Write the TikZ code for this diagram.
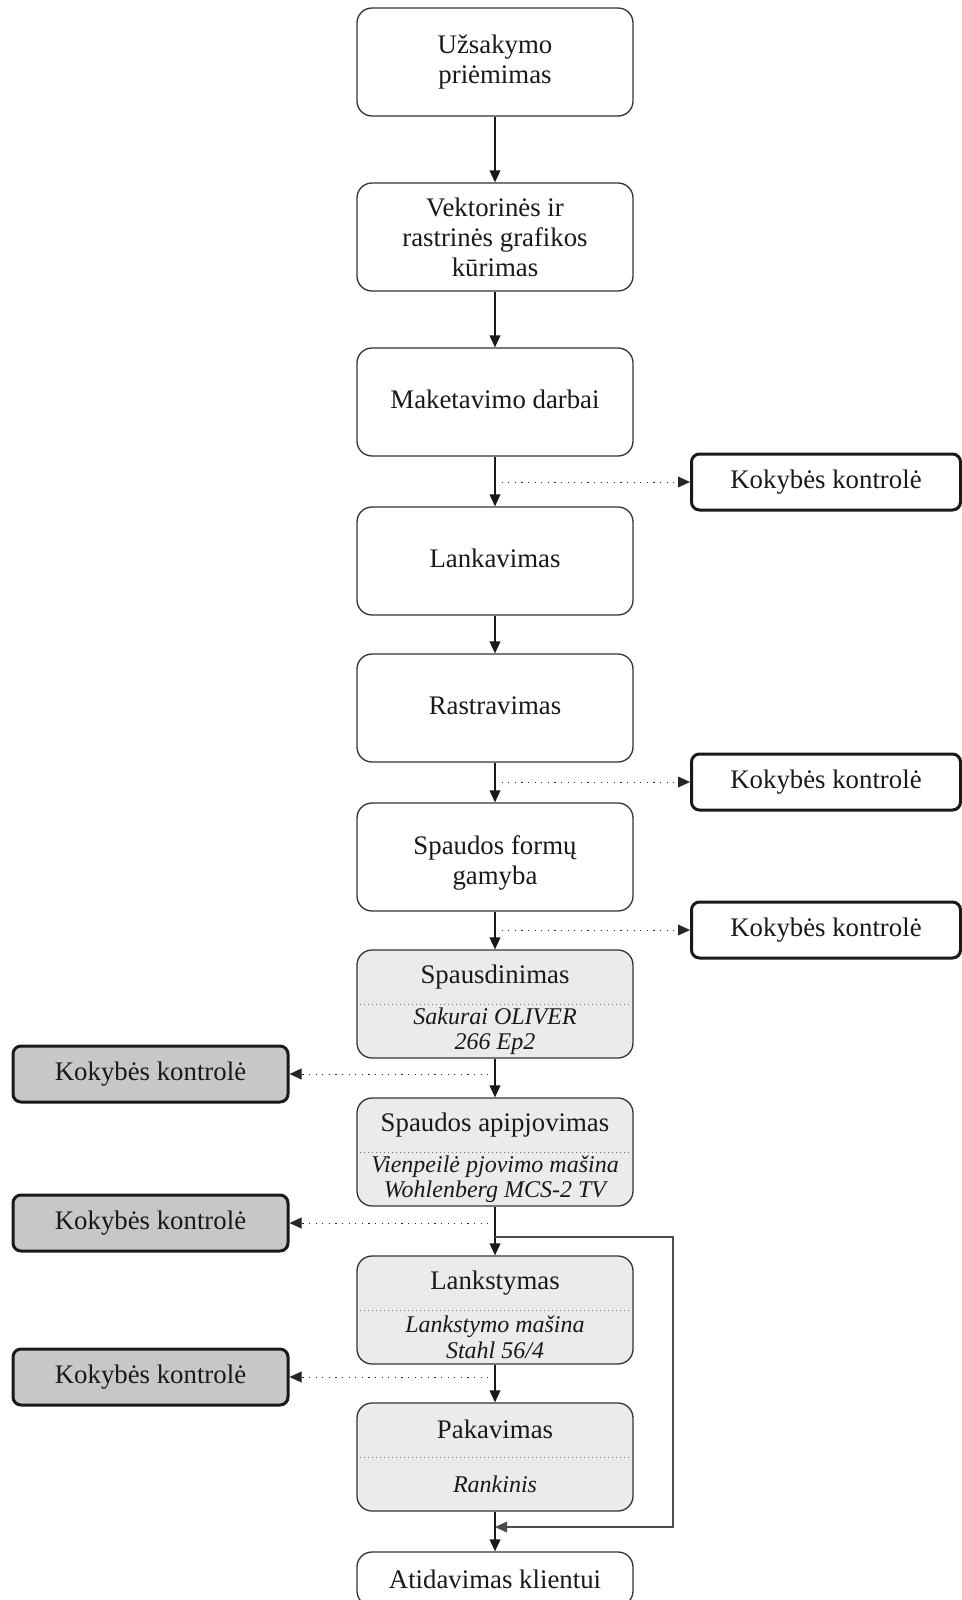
\documentclass[tikz,border=0pt]{standalone}
\usepackage{fontspec}
\setmainfont{Liberation Serif}
\usetikzlibrary{arrows.meta,calc}
\begin{document}
\begin{tikzpicture}[x=0.5pt,y=-0.5pt,
 every node/.style={text=black!90, font=\fontsize{13.4}{15}\selectfont, align=center},
 mbox/.style={draw=black!80, line width=0.65pt, rounded corners=7.5pt, minimum width=138pt, minimum height=54pt, inner sep=0pt, fill=white},
 gbox/.style={mbox, fill=black!8},
 kbox/.style={draw=black!90, line width=1.5pt, rounded corners=4pt, minimum height=28pt, inner sep=0pt},
 kright/.style={kbox, minimum width=134.5pt, fill=white},
 kleft/.style={kbox, minimum width=137.5pt, fill=black!22},
 txt/.style={inner sep=0pt},
 sub/.style={inner sep=0pt, font=\fontsize{12}{12.6}\selectfont\itshape},
 sep/.style={draw=black!55, line width=0.4pt, dash pattern=on 0.5pt off 1.5pt},
 arr/.style={draw=black!90, line width=0.65pt, -{Triangle[length=6pt,width=5.4pt]}},
 darr/.style={arr, draw=black!85, line width=0.5pt, dash pattern=on 0.6pt off 2.7pt},
 fbarr/.style={arr, draw=black!70, line width=0.55pt},
]
\useasboundingbox (0,0) rectangle (962,1600);

% main column
\node[mbox] (m1) at (495,62) {Užsakymo\\priėmimas};
\node[mbox] (m2) at (495,237) {Vektorinės ir\\rastrinės grafikos\\kūrimas};
\node[mbox] (m3) at (495,402) {\raisebox{3pt}{Maketavimo darbai}};
\node[mbox] (m4) at (495,561) {\raisebox{3pt}{Lankavimas}};
\node[mbox] (m5) at (495,708) {\raisebox{2.5pt}{Rastravimas}};
\node[mbox] (m6) at (495,857) {};
\node[txt] (m6t) at ([yshift=-3pt]m6.center) {Spaudos formų\\gamyba};

\node[gbox] (m7) at (495,1004) {};
\draw[sep] (m7.west) -- (m7.east);
\node[txt] (m7t) at ($(m7.north)!0.5!(m7.center)$) {Spausdinimas};
\node[sub] (m7s) at ($(m7.center)!0.5!(m7.south)$) {Sakurai OLIVER\\266 Ep2};

\node[gbox] (m8) at (495,1152) {};
\draw[sep] (m8.west) -- (m8.east);
\node[txt] (m8t) at ($(m8.north)!0.5!(m8.center)$) {Spaudos apipjovimas};
\node[sub] (m8s) at ($(m8.center)!0.5!(m8.south)$) {Vienpeilė pjovimo mašina\\Wohlenberg MCS-2 TV};

\node[gbox] (m9) at (495,1310) {};
\draw[sep] (m9.west) -- (m9.east);
\node[txt] (m9t) at ($(m9.north)!0.5!(m9.center)$) {Lankstymas};
\node[sub] (m9s) at ($(m9.center)!0.5!(m9.south)$) {Lankstymo mašina\\Stahl 56/4};

\node[gbox] (m10) at (495,1457) {};
\draw[sep] (m10.west) -- (m10.east);
\node[txt] (m10t) at ($(m10.north)!0.5!(m10.center)$) {Pakavimas};
\node[sub] (m10s) at ($(m10.center)!0.5!(m10.south)$) {Rankinis};

\node[mbox, minimum height=27pt] (m11) at (495,1579) {Atidavimas klientui};

% quality boxes
\node[kright] (k1) at (826,482) {Kokybės kontrolė};
\node[kright] (k2) at (826,782) {Kokybės kontrolė};
\node[kright] (k3) at (826,930) {Kokybės kontrolė};
\node[kleft] (l1) at (150.5,1074) {Kokybės kontrolė};
\node[kleft] (l2) at (150.5,1223) {Kokybės kontrolė};
\node[kleft] (l3) at (150.5,1377) {Kokybės kontrolė};

% main arrows
\draw[arr] (m1) -- (m2);
\draw[arr] (m2) -- (m3);
\draw[arr] (m3) -- (m4);
\draw[arr] (m4) -- (m5);
\draw[arr] (m5) -- (m6);
\draw[arr] (m6) -- (m7);
\draw[arr] (m7) -- (m8);
\draw[arr] (m8) -- (m9);
\draw[arr] (m9) -- (m10);
\draw[arr] (m10) -- (m11);

% dotted arrows to quality control
\draw[darr] (m3.south |- k1.west) -- (k1.west);
\draw[darr] (m5.south |- k2.west) -- (k2.west);
\draw[darr] (m6.south |- k3.west) -- (k3.west);
\draw[darr] (m7.south |- l1.east) -- (l1.east);
\draw[darr] (m8.south |- l2.east) -- (l2.east);
\draw[darr] (m9.south |- l3.east) -- (l3.east);

% feedback loop
\coordinate (fbs) at (495,1237);
\coordinate (fbe) at (495,1527);
\draw[fbarr] (fbs) -- ++(178,0) |- (fbe);
\end{tikzpicture}
\end{document}
